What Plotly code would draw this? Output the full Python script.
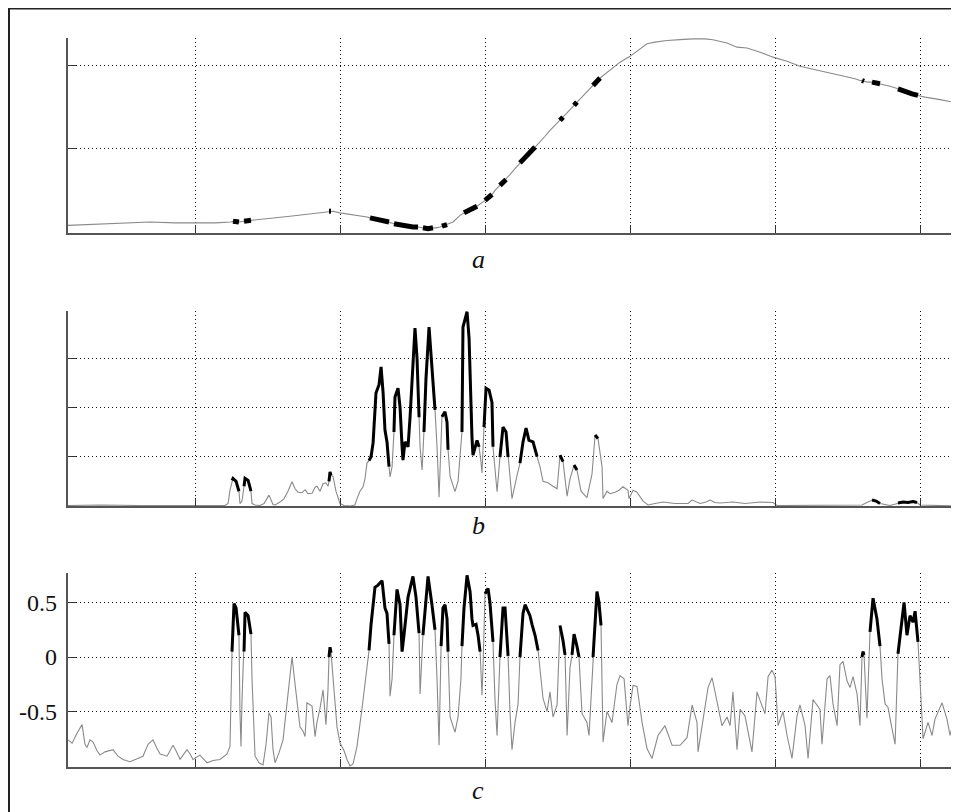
import plotly.graph_objects as go

# ---------------- data (time axis, grid every 1 unit) ----------------
a_x = [0.124, 0.276, 0.414, 0.552, 0.690, 0.862, 0.986, 1.138, 1.248, 1.262, 1.283, 1.303,
       1.338, 1.359, 1.372, 1.386, 1.448, 1.552, 1.655, 1.759, 1.848, 1.924, 1.938, 1.952,
       2.000, 2.083, 2.186, 2.207, 2.234, 2.262, 2.290, 2.317, 2.338, 2.352, 2.372, 2.400,
       2.434, 2.469, 2.503, 2.538, 2.572, 2.607, 2.641, 2.662, 2.690, 2.703, 2.724, 2.738,
       2.779, 2.828, 2.855, 2.876, 2.897, 2.917, 2.945, 2.972, 3.000, 3.021, 3.048, 3.069,
       3.103, 3.124, 3.145, 3.172, 3.207, 3.241, 3.276, 3.310, 3.345, 3.379, 3.414, 3.448,
       3.483, 3.517, 3.538, 3.559, 3.586, 3.614, 3.634, 3.655, 3.690, 3.745, 3.772, 3.793,
       3.814, 3.841, 3.883, 3.931, 4.000, 4.055, 4.117, 4.172, 4.255, 4.345, 4.434, 4.517,
       4.572, 4.669, 4.738, 4.807, 4.897, 4.986, 5.083, 5.172, 5.276, 5.379, 5.483, 5.552,
       5.586, 5.600, 5.614, 5.641, 5.669, 5.697, 5.724, 5.793, 5.848, 5.876, 5.910, 5.945,
       5.986, 6.034, 6.138, 6.255]
a_y = [0.08, 0.09, 0.10, 0.11, 0.12, 0.11, 0.11, 0.11, 0.12, 0.13, 0.12, 0.12,
       0.13, 0.14, 0.14, 0.14, 0.15, 0.17, 0.19, 0.21, 0.23, 0.25, 0.25, 0.25,
       0.23, 0.21, 0.18, 0.17, 0.16, 0.15, 0.14, 0.13, 0.12, 0.11, 0.10, 0.09,
       0.08, 0.07, 0.06, 0.06, 0.05, 0.04, 0.05, 0.05, 0.06, 0.07, 0.08, 0.09,
       0.12, 0.20, 0.23, 0.25, 0.27, 0.29, 0.31, 0.34, 0.38, 0.41, 0.45, 0.50,
       0.56, 0.60, 0.63, 0.69, 0.76, 0.83, 0.90, 0.96, 1.02, 1.08, 1.15, 1.22,
       1.28, 1.34, 1.38, 1.42, 1.47, 1.52, 1.56, 1.59, 1.66, 1.76, 1.82, 1.85,
       1.88, 1.92, 1.98, 2.04, 2.11, 2.18, 2.26, 2.28, 2.30, 2.31, 2.32, 2.32,
       2.31, 2.27, 2.22, 2.21, 2.16, 2.10, 2.05, 1.99, 1.95, 1.91, 1.87, 1.84,
       1.82, 1.82, 1.81, 1.80, 1.80, 1.79, 1.78, 1.75, 1.72, 1.70, 1.68, 1.66,
       1.64, 1.62, 1.59, 1.55]

b_x = [0.124, 0.345, 0.621, 0.897, 1.000, 1.207, 1.228, 1.241, 1.255, 1.262, 1.283, 1.297,
       1.303, 1.310, 1.324, 1.338, 1.345, 1.366, 1.379, 1.386, 1.393, 1.414, 1.448, 1.476,
       1.510, 1.538, 1.552, 1.586, 1.614, 1.641, 1.669, 1.690, 1.710, 1.738, 1.759, 1.779,
       1.807, 1.828, 1.841, 1.862, 1.883, 1.903, 1.917, 1.924, 1.931, 1.938, 1.952, 1.972,
       2.000, 2.028, 2.069, 2.103, 2.117, 2.138, 2.159, 2.172, 2.186, 2.200, 2.214, 2.228,
       2.248, 2.269, 2.283, 2.297, 2.310, 2.324, 2.331, 2.338, 2.345, 2.359, 2.372, 2.379,
       2.400, 2.414, 2.428, 2.434, 2.448, 2.469, 2.483, 2.497, 2.517, 2.531, 2.545, 2.552,
       2.566, 2.579, 2.593, 2.614, 2.634, 2.655, 2.669, 2.683, 2.703, 2.724, 2.738, 2.745,
       2.759, 2.793, 2.814, 2.828, 2.841, 2.848, 2.876, 2.890, 2.910, 2.917, 2.945, 2.959,
       2.972, 2.979, 2.993, 3.007, 3.028, 3.048, 3.055, 3.083, 3.103, 3.124, 3.145, 3.159,
       3.186, 3.221, 3.241, 3.262, 3.283, 3.303, 3.331, 3.359, 3.379, 3.400, 3.434, 3.469,
       3.497, 3.517, 3.538, 3.566, 3.586, 3.614, 3.634, 3.662, 3.703, 3.738, 3.759, 3.779,
       3.807, 3.814, 3.841, 3.862, 3.897, 3.924, 3.952, 3.986, 3.993, 4.021, 4.048, 4.090,
       4.124, 4.172, 4.228, 4.310, 4.400, 4.428, 4.483, 4.524, 4.552, 4.586, 4.621, 4.710,
       4.793, 4.897, 4.986, 5.014, 5.172, 5.379, 5.600, 5.641, 5.669, 5.697, 5.724, 5.793,
       5.848, 5.883, 5.917, 5.952, 5.979, 6.000, 6.255]
b_y = [0.01, 0.02, 0.01, 0.02, 0.01, 0.01, 0.05, 0.32, 0.52, 0.56, 0.50, 0.39,
       0.30, 0.05, 0.10, 0.40, 0.56, 0.52, 0.39, 0.30, 0.05, 0.02, 0.01, 0.05,
       0.22, 0.03, 0.02, 0.08, 0.15, 0.30, 0.49, 0.35, 0.28, 0.27, 0.33, 0.25,
       0.26, 0.38, 0.40, 0.30, 0.45, 0.47, 0.40, 0.50, 0.69, 0.62, 0.60, 0.30,
       0.05, 0.01, 0.00, 0.02, 0.15, 0.30, 0.39, 0.55, 0.87, 0.92, 1.00, 1.28,
       2.29, 2.46, 2.82, 2.30, 1.54, 1.30, 1.00, 0.80, 0.59, 0.80, 1.50, 2.21,
       2.39, 2.00, 1.20, 0.93, 1.30, 1.20, 1.80, 2.62, 3.61, 3.00, 1.80, 1.20,
       0.73, 1.50, 2.60, 3.63, 2.70, 1.95, 1.20, 0.18, 1.81, 1.91, 1.70, 1.14,
       0.60, 0.29, 0.50, 0.99, 1.50, 3.63, 3.94, 3.40, 1.40, 1.03, 1.33, 1.20,
       0.90, 0.67, 1.60, 2.39, 2.35, 2.10, 1.20, 0.29, 0.99, 1.60, 1.50, 0.99,
       0.15, 0.62, 0.87, 1.30, 1.58, 1.33, 1.30, 1.00, 0.80, 0.50, 0.47, 0.40,
       0.35, 1.03, 0.90, 0.20, 0.55, 0.83, 0.73, 0.30, 0.17, 0.65, 1.44, 1.37,
       0.80, 0.15, 0.30, 0.25, 0.28, 0.32, 0.39, 0.32, 0.15, 0.32, 0.28, 0.10,
       0.02, 0.05, 0.08, 0.05, 0.05, 0.12, 0.05, 0.08, 0.12, 0.07, 0.06, 0.08,
       0.05, 0.08, 0.07, 0.01, 0.01, 0.01, 0.02, 0.08, 0.12, 0.10, 0.05, 0.01,
       0.06, 0.08, 0.07, 0.09, 0.07, 0.02, 0.00]

c_x = [0.124, 0.152, 0.186, 0.221, 0.241, 0.255, 0.276, 0.297, 0.324, 0.345, 0.379, 0.434,
       0.469, 0.503, 0.552, 0.600, 0.641, 0.676, 0.710, 0.738, 0.759, 0.807, 0.828, 0.848,
       0.869, 0.897, 0.917, 0.945, 0.966, 0.986, 1.034, 1.083, 1.124, 1.172, 1.221, 1.241,
       1.255, 1.262, 1.269, 1.283, 1.303, 1.310, 1.317, 1.324, 1.338, 1.345, 1.366, 1.386,
       1.393, 1.414, 1.441, 1.469, 1.490, 1.510, 1.524, 1.538, 1.552, 1.579, 1.607, 1.641,
       1.669, 1.690, 1.703, 1.724, 1.745, 1.759, 1.772, 1.793, 1.807, 1.828, 1.841, 1.862,
       1.883, 1.903, 1.917, 1.924, 1.931, 1.938, 1.952, 1.979, 2.000, 2.028, 2.048, 2.069,
       2.090, 2.117, 2.152, 2.186, 2.200, 2.214, 2.241, 2.262, 2.290, 2.310, 2.324, 2.338,
       2.345, 2.359, 2.372, 2.393, 2.414, 2.428, 2.441, 2.469, 2.503, 2.524, 2.545, 2.552,
       2.572, 2.593, 2.607, 2.634, 2.655, 2.669, 2.683, 2.697, 2.710, 2.724, 2.738, 2.745,
       2.759, 2.793, 2.814, 2.834, 2.841, 2.855, 2.876, 2.897, 2.910, 2.917, 2.938, 2.952,
       2.966, 2.979, 2.986, 3.000, 3.021, 3.034, 3.048, 3.055, 3.069, 3.083, 3.103, 3.124,
       3.138, 3.152, 3.159, 3.172, 3.186, 3.207, 3.228, 3.241, 3.262, 3.276, 3.297, 3.310,
       3.324, 3.345, 3.366, 3.386, 3.400, 3.428, 3.448, 3.469, 3.497, 3.517, 3.538, 3.552,
       3.566, 3.586, 3.600, 3.614, 3.634, 3.648, 3.669, 3.703, 3.717, 3.745, 3.772, 3.786,
       3.800, 3.814, 3.841, 3.876, 3.910, 3.931, 3.959, 3.986, 4.000, 4.021, 4.048, 4.083,
       4.117, 4.152, 4.193, 4.241, 4.290, 4.345, 4.393, 4.428, 4.462, 4.469, 4.503, 4.538,
       4.566, 4.600, 4.634, 4.669, 4.690, 4.710, 4.738, 4.759, 4.793, 4.841, 4.876, 4.897,
       4.931, 4.952, 4.979, 5.000, 5.021, 5.055, 5.083, 5.117, 5.152, 5.172, 5.207, 5.228,
       5.262, 5.310, 5.324, 5.359, 5.379, 5.400, 5.428, 5.448, 5.469, 5.497, 5.517, 5.538,
       5.566, 5.586, 5.600, 5.607, 5.614, 5.634, 5.655, 5.676, 5.703, 5.724, 5.738, 5.759,
       5.779, 5.807, 5.828, 5.848, 5.869, 5.890, 5.910, 5.931, 5.952, 5.966, 5.986, 6.000,
       6.021, 6.055, 6.083, 6.103, 6.152, 6.186, 6.207, 6.228, 6.255]
c_y = [-0.76, -0.79, -0.70, -0.62, -0.80, -0.83, -0.76, -0.78, -0.86, -0.90, -0.87, -0.85,
       -0.91, -0.94, -0.96, -0.93, -0.91, -0.80, -0.76, -0.84, -0.89, -0.91, -0.86, -0.81,
       -0.86, -0.94, -0.90, -0.85, -0.89, -0.94, -0.90, -0.97, -0.95, -0.94, -0.89, -0.82,
       0.05, 0.35, 0.49, 0.45, 0.20, -0.50, -0.82, -0.40, 0.05, 0.41, 0.38, 0.21,
       -0.20, -0.91, -0.97, -0.99, -0.80, -0.51, -0.55, -0.85, -0.97, -0.88, -0.76, -0.37,
       0.00, -0.25, -0.40, -0.64, -0.68, -0.73, -0.42, -0.44, -0.45, -0.73, -0.60, -0.47,
       -0.30, -0.62, -0.30, 0.00, 0.09, 0.04, -0.18, -0.64, -0.79, -0.86, -0.94, -1.00,
       -0.98, -0.82, -0.47, -0.12, 0.06, 0.30, 0.64, 0.66, 0.70, 0.45, 0.40, 0.12,
       -0.36, -0.20, 0.20, 0.62, 0.48, 0.05, 0.20, 0.55, 0.74, 0.55, 0.22, -0.34,
       0.20, 0.55, 0.74, 0.48, 0.25, -0.20, -0.81, 0.10, 0.45, 0.48, 0.35, 0.05,
       -0.55, -0.69, -0.55, -0.20, 0.10, 0.45, 0.75, 0.60, 0.35, 0.29, 0.30, 0.20,
       0.05, -0.35, -0.10, 0.58, 0.63, 0.50, 0.25, 0.14, -0.40, -0.72, 0.00, 0.45,
       0.45, 0.20, 0.01, -0.50, -0.85, -0.60, -0.43, 0.00, 0.40, 0.48, 0.42, 0.38,
       0.30, 0.20, 0.06, -0.20, -0.38, -0.50, -0.32, -0.55, -0.44, 0.29, 0.15, 0.02,
       -0.72, -0.10, 0.02, 0.21, 0.10, 0.00, -0.52, -0.60, -0.72, 0.00, 0.60, 0.50,
       0.29, -0.78, -0.50, -0.60, -0.25, -0.17, -0.20, -0.63, -0.45, -0.26, -0.27, -0.60,
       -0.84, -0.93, -0.72, -0.63, -0.81, -0.81, -0.74, -0.44, -0.60, -0.87, -0.56, -0.28,
       -0.19, -0.40, -0.63, -0.55, -0.63, -0.32, -0.85, -0.48, -0.54, -0.87, -0.32, -0.40,
       -0.52, -0.18, -0.12, -0.18, -0.63, -0.50, -0.72, -0.93, -0.54, -0.44, -0.63, -0.93,
       -0.39, -0.48, -0.80, -0.20, -0.17, -0.43, -0.63, -0.07, -0.04, -0.22, -0.28, -0.18,
       -0.34, -0.63, 0.00, 0.05, 0.02, -0.56, 0.23, 0.54, 0.35, 0.10, -0.20, -0.43,
       -0.46, -0.66, -0.80, 0.03, 0.25, 0.50, 0.20, 0.38, 0.32, 0.42, 0.14, -0.19,
       -0.75, -0.60, -0.72, -0.57, -0.42, -0.57, -0.72, -0.60, -0.62]

# highlighted (detected) intervals, shared by the three panels
hl_start = [1.250, 1.335, 1.920, 2.190, 2.370, 2.570, 2.695, 2.838, 2.990, 3.100,
            3.240, 3.515, 3.600, 3.744, 5.599, 5.652, 5.846]
hl_end = [1.305, 1.390, 1.945, 2.340, 2.546, 2.656, 2.746, 2.968, 3.056, 3.160,
          3.367, 3.553, 3.649, 3.801, 5.615, 5.725, 5.987]

c_tick_vals = [-0.5, 0, 0.5]
c_tick_text = ["-0.5", "0", "0.5"]
panel_labels = ["a", "b", "c"]


def highlight(xs, ys):
    hx, hy = [], []
    for s, e in zip(hl_start, hl_end):
        seg = [(x, y) for x, y in zip(xs, ys) if s <= x <= e]
        if not seg:
            continue
        hx += [p[0] for p in seg] + [None]
        hy += [p[1] for p in seg] + [None]
    return hx, hy


# the page body has an 8px margin, so the figure is sized to the visible area
W, H = 951, 804
fig = go.Figure()

panels = [
    (a_x, a_y, "x", "y", 5.0),
    (b_x, b_y, "x2", "y2", 3.0),
    (c_x, c_y, "x3", "y3", 3.0),
]
for xs, ys, xa, ya, bw in panels:
    fig.add_trace(go.Scatter(x=xs, y=ys, mode="lines", xaxis=xa, yaxis=ya,
                             line=dict(color="#8a8a8a", width=1.1), showlegend=False,
                             hoverinfo="skip"))
    hx, hy = highlight(xs, ys)
    fig.add_trace(go.Scatter(x=hx, y=hy, mode="lines", xaxis=xa, yaxis=ya,
                             line=dict(color="#000000", width=bw), showlegend=False,
                             connectgaps=False, hoverinfo="skip"))

xdom = [60 / W, 949 / W]
xrange = [0.124, 6.255]
common_x = dict(range=xrange, domain=xdom, tickvals=[1, 2, 3, 4, 5, 6], showticklabels=False,
                showgrid=True, gridcolor="#111", griddash="1px,3px", gridwidth=1,
                showline=True, linecolor="#555", linewidth=1.5, ticks="inside",
                ticklen=8, tickcolor="#333", zeroline=False)
common_y = dict(showgrid=True, gridcolor="#111", griddash="1px,3px", gridwidth=1,
                showline=True, linecolor="#555", linewidth=1.5, ticks="inside",
                ticklen=8, tickcolor="#333", zeroline=False, showticklabels=False)

fig.update_layout(
    width=W, height=H, margin=dict(l=0, r=0, t=0, b=0),
    paper_bgcolor="white", plot_bgcolor="white", showlegend=False,
    xaxis=dict(**common_x, anchor="y"),
    xaxis2=dict(**common_x, anchor="y2"),
    xaxis3=dict(**common_x, anchor="y3"),
    yaxis=dict(**common_y, anchor="x", domain=[1 - 225 / H, 1 - 30 / H],
               range=[-0.012, 2.33], tickvals=[0, 1, 2]),
    yaxis2=dict(**common_y, anchor="x2", domain=[1 - 498 / H, 1 - 303 / H],
                range=[0, 3.955], tickvals=[1, 2, 3]),
    yaxis3=dict(**common_y, anchor="x3", domain=[1 - 759 / H, 1 - 565 / H],
                range=[-1.009, 0.771], tickvals=c_tick_vals),
)

# tick labels of panel c, placed on the y3 scale
for v, t in zip(c_tick_vals, c_tick_text):
    fig.add_annotation(text=t, x=51 / W, y=v, xref="paper", yref="y3", showarrow=False,
                       xanchor="right", yanchor="middle",
                       font=dict(family="Liberation Serif", size=24, color="#111"))

label_y = [1 - 251 / H, 1 - 517 / H, 1 - 782 / H]
for lab, ly in zip(panel_labels, label_y):
    fig.add_annotation(text="<i>" + lab + "</i>", x=470 / W, y=ly, xref="paper", yref="paper",
                       showarrow=False, font=dict(family="Liberation Serif", size=26, color="#111"),
                       xanchor="center", yanchor="middle")

# outer frame
fig.add_shape(type="rect", xref="paper", yref="paper", x0=1 / W, y0=-0.02, x1=1.02, y1=1 - 0.5 / H,
              line=dict(color="#222", width=2), fillcolor="rgba(0,0,0,0)", layer="below")

fig.write_html("out.html")
